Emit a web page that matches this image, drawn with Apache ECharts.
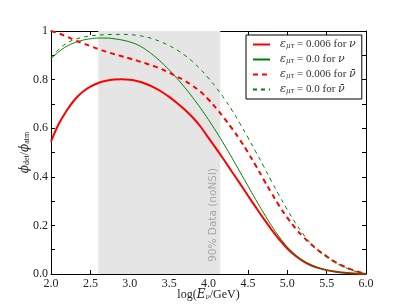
<!DOCTYPE html>
<html>
<head>
<meta charset="utf-8">
<script src="https://cdn.jsdelivr.net/npm/echarts@6/dist/echarts.min.js"></script>
<style>html,body{margin:0;padding:0;background:#fff}#c{width:407px;height:305px}</style>
</head>
<body>
<div id="c"></div>
<script>
// log(E/GeV) sample points
const xVals = [2.0,2.1,2.2,2.3,2.4,2.5,2.6,2.7,2.8,2.9,3.0,3.1,3.2,3.3,3.4,3.5,3.6,3.7,3.8,3.9,4.0,4.1,4.2,4.3,4.4,4.5,4.6,4.7,4.8,4.9,5.0,5.1,5.2,5.3,5.4,5.5,5.6,5.7,5.8,5.9,6.0];
// eps = 0.006 for nu (red solid)
const nuNSI = [0.545,0.618,0.673,0.717,0.749,0.771,0.786,0.795,0.800,0.801,0.799,0.793,0.783,0.769,0.751,0.729,0.704,0.676,0.644,0.606,0.560,0.515,0.468,0.420,0.372,0.323,0.275,0.228,0.183,0.142,0.105,0.076,0.053,0.036,0.024,0.016,0.010,0.006,0.003,0.001,0.0];
// eps = 0.0 for nu (green solid)
const nuSM = [0.885,0.915,0.937,0.952,0.962,0.968,0.971,0.971,0.968,0.963,0.955,0.943,0.924,0.900,0.872,0.840,0.805,0.767,0.726,0.682,0.635,0.585,0.532,0.477,0.420,0.363,0.306,0.251,0.199,0.152,0.112,0.080,0.056,0.038,0.025,0.016,0.010,0.006,0.003,0.001,0.0];
// eps = 0.006 for anti-nu (red dashed)
const anuNSI = [1.0,0.99,0.977,0.963,0.950,0.938,0.926,0.915,0.905,0.896,0.887,0.877,0.867,0.856,0.844,0.829,0.812,0.795,0.774,0.750,0.718,0.681,0.641,0.598,0.552,0.501,0.446,0.389,0.333,0.280,0.232,0.190,0.154,0.123,0.096,0.073,0.051,0.034,0.020,0.009,0.002];
// eps = 0.0 for anti-nu (green dashed)
const anuSM = [0.89,0.925,0.950,0.965,0.974,0.980,0.983,0.985,0.986,0.986,0.985,0.982,0.976,0.967,0.955,0.940,0.922,0.900,0.873,0.842,0.806,0.766,0.722,0.673,0.619,0.562,0.503,0.443,0.382,0.322,0.265,0.212,0.165,0.125,0.094,0.069,0.049,0.032,0.018,0.008,0.002];
const bandRange = [2.6, 4.15];
const bandText = '90% Data (noNSI)';
const xTicks = {min: 2, max: 6, interval: 0.5};
const yTicks = {min: 0, max: 1, interval: 0.1};
const legendNames = [
  '{i|ε}{s|μτ} = 0.006 for {i|ν}',
  '{i|ε}{s|μτ} = 0.0 for {i|ν}',
  '{i|ε}{s|μτ} = 0.006 for {i|ν̄}',
  '{i|ε}{s|μτ} = 0.0 for {i|ν̄}'
];

const chart = echarts.init(document.getElementById('c'), null, {renderer: 'canvas'});
const pair = arr => xVals.map((x, i) => [x, arr[i]]);
const serif = 'Liberation Serif';
const tickFont = {fontFamily: serif, fontSize: 12, color: '#222'};
const richLegend = {
  i: {fontFamily: 'DejaVu Serif', fontStyle: 'italic', fontSize: 11, color: '#333'},
  s: {fontFamily: 'DejaVu Serif', fontStyle: 'italic', fontSize: 7, color: '#333', verticalAlign: 'bottom', padding: [4, 0, 0, 0]}
};
const richName = {
  i: {fontFamily: 'DejaVu Serif', fontStyle: 'italic', fontSize: 12, color: '#222'},
  s: {fontFamily: serif, fontSize: 8, color: '#222', verticalAlign: 'bottom', padding: [4, 0, 0, 0]},
  si: {fontFamily: 'DejaVu Serif', fontStyle: 'italic', fontSize: 7, color: '#222', verticalAlign: 'bottom', padding: [4, 0, 0, 0]}
};
const axCommon = {
  type: 'value', splitLine: {show: false},
  axisLine: {show: true, onZero: false, lineStyle: {color: '#000', width: 1}},
  axisTick: {show: true, inside: true, length: 4, lineStyle: {color: '#000'}}
};
function fmtY(v) {
  const k = Math.round(v * 10);
  if (k % 2 !== 0) return '';
  if (k === 10) return '1';
  return (k / 10).toFixed(1);
}
const mkLine = (name, data, color, width, type) => ({
  name, type: 'line', data, smooth: 0.4, symbol: 'none', showSymbol: false,
  lineStyle: {color, width, type}, itemStyle: {color}, z: 3
});

const series = [
  mkLine(legendNames[0], pair(nuNSI), '#ff0000', 2, 'solid'),
  mkLine(legendNames[1], pair(nuSM), '#008000', 1, 'solid'),
  mkLine(legendNames[2], pair(anuNSI), '#ff0000', 2, [5, 4]),
  mkLine(legendNames[3], pair(anuSM), '#008000', 1, [4, 4])
];
series[0].markArea = {
  silent: true,
  itemStyle: {color: '#e5e5e5'},
  data: [[{xAxis: bandRange[0]}, {xAxis: bandRange[1]}]]
};

chart.setOption({
  animation: false,
  backgroundColor: '#fff',
  grid: {left: 51, right: 41, top: 31, bottom: 31, containLabel: false, outerBoundsMode: 'none'},
  xAxis: [
    Object.assign({}, axCommon, xTicks, {
      position: 'bottom',
      axisLabel: Object.assign({}, tickFont, {margin: 4, formatter: v => v.toFixed(1)}),
      name: 'log({i|E}{si|ν}/GeV)', nameLocation: 'middle', nameGap: 15, nameMoveOverlap: false,
      nameTextStyle: {fontFamily: serif, fontSize: 12, color: '#222', rich: richName}
    }),
    Object.assign({}, axCommon, xTicks, {position: 'top', axisLabel: {show: false}})
  ],
  yAxis: [
    Object.assign({}, axCommon, yTicks, {
      position: 'left',
      axisLabel: Object.assign({}, tickFont, {margin: 3, formatter: fmtY}),
      name: '{i|ϕ}{s|det}/{i|ϕ}{s|atm}', nameLocation: 'middle', nameGap: 20, nameRotate: 90, nameMoveOverlap: false,
      nameTextStyle: {fontFamily: serif, fontSize: 12, color: '#222', rich: richName}
    }),
    Object.assign({}, axCommon, yTicks, {position: 'right', axisLabel: {show: false}})
  ],
  legend: {
    orient: 'vertical', left: 246, top: 35,
    backgroundColor: '#fff', borderColor: '#000', borderWidth: 1, borderRadius: 0,
    padding: [4, 6, 4, 6], itemGap: 4, itemWidth: 17, itemHeight: 11,
    itemStyle: {opacity: 0},
    data: legendNames,
    textStyle: {fontFamily: serif, fontSize: 11, color: '#333', padding: [0, 0, 0, 5], rich: richLegend}
  },
  series
});

const p = chart.convertToPixel({xAxisIndex: 0, yAxisIndex: 0}, [4.057, 0.05]);
chart.setOption({
  graphic: [{
    type: 'text', x: p[0], y: p[1], rotation: Math.PI / 2, z: 2,
    style: {text: bandText, fontFamily: 'DejaVu Sans', fontSize: 10.5, fill: '#a8a8a8', align: 'left', verticalAlign: 'middle'}
  }]
});
</script>
</body>
</html>
